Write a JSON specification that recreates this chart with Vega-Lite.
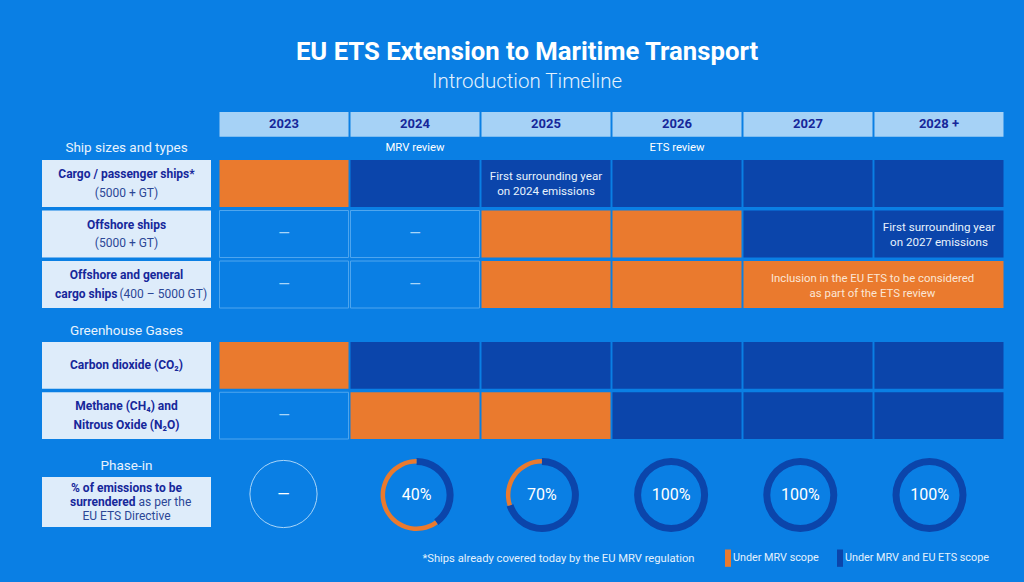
{
  "$schema": "https://vega.github.io/schema/vega-lite/v6.json",
  "width": 1024,
  "height": 482,
  "autosize": "none",
  "padding": {"left": 0, "right": 0, "top": 100, "bottom": 0},
  "background": "#0a7fe4",
  "title": {
    "text": "EU ETS Extension to Maritime Transport",
    "subtitle": "Introduction Timeline",
    "anchor": "middle",
    "dx": 15,
    "offset": 7,
    "color": "#ffffff",
    "font": "Roboto",
    "fontSize": 25.7,
    "fontWeight": "bold",
    "subtitleColor": "#e3f1fd",
    "subtitleFont": "Roboto",
    "subtitleFontSize": 20.5,
    "subtitleFontWeight": 300,
    "subtitlePadding": 6
  },
  "config": {
    "view": {"stroke": null},
    "axis": {"disable": true},
    "text": {"font": "Roboto"}
  },
  "datasets": {
    "years": [
      {"row": "Year", "year": "2023"},
      {"row": "Year", "year": "2024"},
      {"row": "Year", "year": "2025"},
      {"row": "Year", "year": "2026"},
      {"row": "Year", "year": "2027"},
      {"row": "Year", "year": "2028 +"}
    ],
    "reviews": [
      {"row": "Review", "year": "2024", "text": "MRV review"},
      {"row": "Review", "year": "2026", "text": "ETS review"}
    ],
    "cells": [
      {"section": "ships", "row": "Cargo / passenger", "year": "2023", "status": "Under MRV scope"},
      {"section": "ships", "row": "Cargo / passenger", "year": "2024", "status": "Under MRV and EU ETS scope"},
      {"section": "ships", "row": "Cargo / passenger", "year": "2025", "status": "Under MRV and EU ETS scope", "note": "First surrounding year\non 2024 emissions"},
      {"section": "ships", "row": "Cargo / passenger", "year": "2026", "status": "Under MRV and EU ETS scope"},
      {"section": "ships", "row": "Cargo / passenger", "year": "2027", "status": "Under MRV and EU ETS scope"},
      {"section": "ships", "row": "Cargo / passenger", "year": "2028 +", "status": "Under MRV and EU ETS scope"},
      {"section": "ships", "row": "Offshore", "year": "2023", "status": "Not in scope"},
      {"section": "ships", "row": "Offshore", "year": "2024", "status": "Not in scope"},
      {"section": "ships", "row": "Offshore", "year": "2025", "status": "Under MRV scope"},
      {"section": "ships", "row": "Offshore", "year": "2026", "status": "Under MRV scope"},
      {"section": "ships", "row": "Offshore", "year": "2027", "status": "Under MRV and EU ETS scope"},
      {"section": "ships", "row": "Offshore", "year": "2028 +", "status": "Under MRV and EU ETS scope", "note": "First surrounding year\non 2027 emissions"},
      {"section": "ships", "row": "Offshore and general", "year": "2023", "status": "Not in scope"},
      {"section": "ships", "row": "Offshore and general", "year": "2024", "status": "Not in scope"},
      {"section": "ships", "row": "Offshore and general", "year": "2025", "status": "Under MRV scope"},
      {"section": "ships", "row": "Offshore and general", "year": "2026", "status": "Under MRV scope"},
      {"section": "ships", "row": "Offshore and general", "year": "2027", "yearEnd": "2028 +", "status": "Under MRV scope", "note": "Inclusion in the EU ETS to be considered\nas part of the ETS review"},
      {"section": "gases", "row": "CO2", "year": "2023", "status": "Under MRV scope"},
      {"section": "gases", "row": "CO2", "year": "2024", "status": "Under MRV and EU ETS scope"},
      {"section": "gases", "row": "CO2", "year": "2025", "status": "Under MRV and EU ETS scope"},
      {"section": "gases", "row": "CO2", "year": "2026", "status": "Under MRV and EU ETS scope"},
      {"section": "gases", "row": "CO2", "year": "2027", "status": "Under MRV and EU ETS scope"},
      {"section": "gases", "row": "CO2", "year": "2028 +", "status": "Under MRV and EU ETS scope"},
      {"section": "gases", "row": "CH4 N2O", "year": "2023", "status": "Not in scope"},
      {"section": "gases", "row": "CH4 N2O", "year": "2024", "status": "Under MRV scope"},
      {"section": "gases", "row": "CH4 N2O", "year": "2025", "status": "Under MRV scope"},
      {"section": "gases", "row": "CH4 N2O", "year": "2026", "status": "Under MRV and EU ETS scope"},
      {"section": "gases", "row": "CH4 N2O", "year": "2027", "status": "Under MRV and EU ETS scope"},
      {"section": "gases", "row": "CH4 N2O", "year": "2028 +", "status": "Under MRV and EU ETS scope"}
    ],
    "labels": [
      {"section": "ships", "row": "Cargo / passenger", "line": 1, "part": "name", "text": "Cargo / passenger ships*"},
      {"section": "ships", "row": "Cargo / passenger", "line": 2, "part": "note", "text": "(5000 + GT)"},
      {"section": "ships", "row": "Offshore", "line": 1, "part": "name", "text": "Offshore ships"},
      {"section": "ships", "row": "Offshore", "line": 2, "part": "note", "text": "(5000 + GT)"},
      {"section": "ships", "row": "Offshore and general", "line": 1, "part": "name", "text": "Offshore and general"},
      {"section": "ships", "row": "Offshore and general", "line": 2, "part": "nameLeft", "text": "cargo ships"},
      {"section": "ships", "row": "Offshore and general", "line": 2, "part": "noteRight", "text": "(400 – 5000 GT)"},
      {"section": "gases", "row": "CO2", "line": 1.5, "part": "name", "text": "Carbon dioxide (CO₂)"},
      {"section": "gases", "row": "CH4 N2O", "line": 1, "part": "name", "text": "Methane (CH₄) and"},
      {"section": "gases", "row": "CH4 N2O", "line": 2, "part": "name", "text": "Nitrous Oxide (N₂O)"},
      {"section": "phase", "row": "Phase-in", "line": 1, "part": "name", "text": "% of emissions to be"},
      {"section": "phase", "row": "Phase-in", "line": 2, "part": "nameLeft", "text": "surrendered"},
      {"section": "phase", "row": "Phase-in", "line": 2, "part": "noteRight", "text": "as per the"},
      {"section": "phase", "row": "Phase-in", "line": 3, "part": "note", "text": "EU ETS Directive"}
    ],
    "headings": [
      {"section": "ships", "row": "Cargo / passenger", "text": "Ship sizes and types"},
      {"section": "gases", "row": "CO2", "text": "Greenhouse Gases"},
      {"section": "phase", "row": "Phase-in", "text": "Phase-in"}
    ],
    "rings": [
      {"row": "Phase-in", "year": "2024", "scope": "Under MRV and EU ETS scope", "from": 0, "to": 40},
      {"row": "Phase-in", "year": "2024", "scope": "Under MRV scope", "from": 40, "to": 100},
      {"row": "Phase-in", "year": "2025", "scope": "Under MRV and EU ETS scope", "from": 0, "to": 70},
      {"row": "Phase-in", "year": "2025", "scope": "Under MRV scope", "from": 70, "to": 100},
      {"row": "Phase-in", "year": "2026", "scope": "Under MRV and EU ETS scope", "from": 0, "to": 100},
      {"row": "Phase-in", "year": "2027", "scope": "Under MRV and EU ETS scope", "from": 0, "to": 100},
      {"row": "Phase-in", "year": "2028 +", "scope": "Under MRV and EU ETS scope", "from": 0, "to": 100}
    ],
    "percents": [
      {"row": "Phase-in", "year": "2023", "percent": "—"},
      {"row": "Phase-in", "year": "2024", "percent": "40%"},
      {"row": "Phase-in", "year": "2025", "percent": "70%"},
      {"row": "Phase-in", "year": "2026", "percent": "100%"},
      {"row": "Phase-in", "year": "2027", "percent": "100%"},
      {"row": "Phase-in", "year": "2028 +", "percent": "100%"}
    ],
    "footnote": [
      {"text": "*Ships already covered today by the EU MRV regulation"}
    ]
  },
  "resolve": {"scale": {"x": "independent", "y": "independent"}},
  "layer": [
    {
      "encoding": {
        "x": {
          "field": "year",
          "type": "nominal",
          "scale": {
            "type": "band",
            "domain": ["2023", "2024", "2025", "2026", "2027", "2028 +"],
            "range": [219.5, 1003.5],
            "paddingInner": 0.015,
            "paddingOuter": 0
          }
        }
      },
      "resolve": {"scale": {"y": "independent"}},
      "layer": [
        {
          "encoding": {
            "y": {
              "field": "row",
              "type": "nominal",
              "scale": {"type": "band", "domain": ["Year", "Review"], "range": [12, 62], "paddingInner": 0.02, "paddingOuter": 0}
            }
          },
          "layer": [
            {
              "data": {"name": "years"},
              "mark": {"type": "rect", "fill": "#a6d2f6"}
            },
            {
              "data": {"name": "years"},
              "mark": {"type": "text", "fontSize": 13, "fontWeight": "bold", "color": "#16279a"},
              "encoding": {"text": {"field": "year"}}
            },
            {
              "data": {"name": "reviews"},
              "mark": {"type": "text", "fontSize": 11.3, "color": "#ffffff", "dy": -1.5},
              "encoding": {"text": {"field": "text"}}
            }
          ]
        },
        {
          "data": {"name": "cells"},
          "transform": [{"filter": "datum.section == 'ships'"}],
          "encoding": {
            "y": {
              "field": "row",
              "type": "nominal",
              "scale": {
                "type": "band",
                "domain": ["Cargo / passenger", "Offshore", "Offshore and general"],
                "range": [60, 208],
                "paddingInner": 0.07,
                "paddingOuter": 0
              }
            }
          },
          "layer": [
            {
              "transform": [{"filter": "datum.status != 'Not in scope' && !datum.yearEnd"}],
              "mark": {"type": "rect"},
              "encoding": {
                "color": {
                  "field": "status",
                  "type": "nominal",
                  "scale": {"domain": ["Under MRV scope", "Under MRV and EU ETS scope"], "range": ["#ea7a2e", "#0b45ab"]},
                  "legend": {
                    "orient": "none",
                    "direction": "horizontal",
                    "legendX": 719,
                    "legendY": 449,
                    "title": null,
                    "symbolType": "M-0.35,-1H0.35V1H-0.35Z",
                    "symbolSize": 300,
                    "symbolStrokeWidth": 0,
                    "labelColor": "#e3f1fd",
                    "labelFont": "Roboto",
                    "labelFontSize": 10.8,
                    "labelLimit": 300,
                    "columnPadding": 12,
                    "labelOffset": -4
                  }
                }
              }
            },
            {
              "transform": [{"filter": "datum.yearEnd"}],
              "mark": {"type": "rect", "fill": "#ea7a2e"},
              "encoding": {
                "x": {"field": "year", "type": "nominal", "bandPosition": 0},
                "x2": {"field": "yearEnd", "bandPosition": 1}
              }
            },
            {
              "transform": [{"filter": "datum.yearEnd"}],
              "mark": {"type": "text", "fontSize": 11.4, "color": "#fbe6d5", "lineBreak": "\n", "lineHeight": 15, "dy": -6},
              "encoding": {
                "x": {"field": "year", "type": "nominal", "bandPosition": 1},
                "text": {"field": "note"}
              }
            },
            {
              "transform": [{"filter": "datum.status == 'Not in scope'"}],
              "mark": {"type": "rect", "fill": null, "stroke": "#4fa6ee", "strokeWidth": 1}
            },
            {
              "transform": [{"filter": "datum.status == 'Not in scope'"}],
              "mark": {"type": "text", "fontSize": 15, "color": "#a9d5f8", "dy": -1},
              "encoding": {"text": {"value": "—"}}
            },
            {
              "transform": [{"filter": "datum.note && !datum.yearEnd"}],
              "mark": {"type": "text", "fontSize": 11.6, "color": "#e8f3fd", "lineBreak": "\n", "lineHeight": 15, "dy": -6},
              "encoding": {"text": {"field": "note"}}
            }
          ]
        },
        {
          "data": {"name": "cells"},
          "transform": [{"filter": "datum.section == 'gases'"}],
          "encoding": {
            "y": {
              "field": "row",
              "type": "nominal",
              "scale": {"type": "band", "domain": ["CO2", "CH4 N2O"], "range": [242, 339], "paddingInner": 0.07, "paddingOuter": 0}
            }
          },
          "layer": [
            {
              "transform": [{"filter": "datum.status != 'Not in scope'"}],
              "mark": {"type": "rect"},
              "encoding": {
                "color": {
                  "field": "status",
                  "type": "nominal",
                  "scale": {"domain": ["Under MRV scope", "Under MRV and EU ETS scope"], "range": ["#ea7a2e", "#0b45ab"]},
                  "legend": null
                }
              }
            },
            {
              "transform": [{"filter": "datum.status == 'Not in scope'"}],
              "mark": {"type": "rect", "fill": null, "stroke": "#4fa6ee", "strokeWidth": 1}
            },
            {
              "transform": [{"filter": "datum.status == 'Not in scope'"}],
              "mark": {"type": "text", "fontSize": 15, "color": "#a9d5f8", "dy": -1},
              "encoding": {"text": {"value": "—"}}
            }
          ]
        }
      ]
    },
    {
      "encoding": {
        "x": {
          "datum": "Labels",
          "type": "nominal",
          "scale": {"type": "band", "domain": ["Labels"], "range": [42, 211], "paddingInner": 0, "paddingOuter": 0}
        }
      },
      "resolve": {"scale": {"y": "independent", "yOffset": "independent"}},
      "layer": [
        {
          "encoding": {
            "y": {
              "field": "row",
              "type": "nominal",
              "scale": {
                "type": "band",
                "domain": ["Cargo / passenger", "Offshore", "Offshore and general"],
                "range": [60, 208],
                "paddingInner": 0.07,
                "paddingOuter": 0
              }
            }
          },
          "layer": [
            {
              "data": {"name": "headings"},
              "transform": [{"filter": "datum.section == 'ships'"}],
              "mark": {"type": "text", "fontSize": 13.5, "dy": -35.5, "color": "#e8f3fd"},
              "encoding": {"text": {"field": "text"}}
            },
            {
              "data": {"name": "cells"},
              "transform": [{"filter": "datum.section == 'ships' && datum.year == '2023'"}],
              "mark": {"type": "rect", "fill": "#deecfa"}
            },
            {
              "data": {"name": "labels"},
              "transform": [{"filter": "datum.section == 'ships'"}],
              "encoding": {
                "yOffset": {
                  "field": "line",
                  "type": "ordinal",
                  "scale": {"type": "band", "domain": [1, 1.5, 2], "paddingOuter": 1.35, "paddingInner": 0}
                },
                "text": {"field": "text"}
              },
              "layer": [
                {
                  "transform": [{"filter": "datum.part == 'name'"}],
                  "mark": {"type": "text", "fontSize": 12, "fontWeight": "bold", "color": "#16279a"}
                },
                {
                  "transform": [{"filter": "datum.part == 'note'"}],
                  "mark": {"type": "text", "fontSize": 12, "color": "#2b4796"}
                },
                {
                  "transform": [{"filter": "datum.part == 'nameLeft'"}],
                  "mark": {"type": "text", "fontSize": 12, "fontWeight": "bold", "color": "#16279a", "align": "right", "dx": -9}
                },
                {
                  "transform": [{"filter": "datum.part == 'noteRight'"}],
                  "mark": {"type": "text", "fontSize": 12, "color": "#2b4796", "align": "left", "dx": -7}
                }
              ]
            }
          ]
        },
        {
          "encoding": {
            "y": {
              "field": "row",
              "type": "nominal",
              "scale": {"type": "band", "domain": ["CO2", "CH4 N2O"], "range": [242, 339], "paddingInner": 0.07, "paddingOuter": 0}
            }
          },
          "layer": [
            {
              "data": {"name": "headings"},
              "transform": [{"filter": "datum.section == 'gases'"}],
              "mark": {"type": "text", "fontSize": 13.5, "dy": -34, "color": "#e8f3fd"},
              "encoding": {"text": {"field": "text"}}
            },
            {
              "data": {"name": "cells"},
              "transform": [{"filter": "datum.section == 'gases' && datum.year == '2023'"}],
              "mark": {"type": "rect", "fill": "#deecfa"}
            },
            {
              "data": {"name": "labels"},
              "transform": [{"filter": "datum.section == 'gases'"}],
              "mark": {"type": "text", "fontSize": 12, "fontWeight": "bold", "color": "#16279a"},
              "encoding": {
                "yOffset": {
                  "field": "line",
                  "type": "ordinal",
                  "scale": {"type": "band", "domain": [1, 1.5, 2], "paddingOuter": 1.35, "paddingInner": 0}
                },
                "text": {"field": "text"}
              }
            }
          ]
        },
        {
          "encoding": {
            "y": {
              "field": "row",
              "type": "nominal",
              "scale": {"type": "band", "domain": ["Phase-in"], "range": [377, 427], "paddingInner": 0, "paddingOuter": 0}
            }
          },
          "layer": [
            {
              "data": {"name": "headings"},
              "transform": [{"filter": "datum.section == 'phase'"}],
              "mark": {"type": "text", "fontSize": 13.5, "dy": -36.5, "color": "#e8f3fd"},
              "encoding": {"text": {"field": "text"}}
            },
            {
              "data": {"name": "headings"},
              "transform": [{"filter": "datum.section == 'phase'"}],
              "mark": {"type": "rect", "fill": "#deecfa"}
            },
            {
              "data": {"name": "labels"},
              "transform": [{"filter": "datum.section == 'phase'"}],
              "encoding": {
                "yOffset": {
                  "field": "line",
                  "type": "ordinal",
                  "scale": {"type": "band", "domain": [1, 2, 3], "paddingOuter": 0.286, "paddingInner": 0}
                },
                "text": {"field": "text"}
              },
              "layer": [
                {
                  "transform": [{"filter": "datum.part == 'name'"}],
                  "mark": {"type": "text", "fontSize": 12, "fontWeight": "bold", "color": "#16279a"}
                },
                {
                  "transform": [{"filter": "datum.part == 'note'"}],
                  "mark": {"type": "text", "fontSize": 12, "color": "#2b4796"}
                },
                {
                  "transform": [{"filter": "datum.part == 'nameLeft'"}],
                  "mark": {"type": "text", "fontSize": 12, "fontWeight": "bold", "color": "#16279a", "align": "right", "dx": 9}
                },
                {
                  "transform": [{"filter": "datum.part == 'noteRight'"}],
                  "mark": {"type": "text", "fontSize": 12, "color": "#2b4796", "align": "left", "dx": 12}
                }
              ]
            }
          ]
        }
      ]
    },
    {
      "encoding": {
        "x": {
          "field": "year",
          "type": "nominal",
          "scale": {
            "type": "band",
            "domain": ["2023", "2024", "2025", "2026", "2027", "2028 +"],
            "range": [218.9, 994.1],
            "paddingInner": 0,
            "paddingOuter": 0
          }
        },
        "y": {
          "field": "row",
          "type": "nominal",
          "scale": {"type": "band", "domain": ["Phase-in"], "range": [358, 432], "paddingInner": 0, "paddingOuter": 0}
        }
      },
      "layer": [
        {
          "data": {"name": "percents"},
          "transform": [{"filter": "datum.year == '2023'"}],
          "mark": {"type": "point", "shape": "circle", "size": 4515, "stroke": "#a9d5f8", "strokeWidth": 1, "fill": null, "opacity": 1, "yOffset": -1}
        },
        {
          "data": {"name": "rings"},
          "transform": [{"filter": "datum.scope == 'Under MRV and EU ETS scope' && datum.year != '2024'"}],
          "mark": {"type": "arc", "innerRadius": 30, "outerRadius": 37},
          "encoding": {
            "theta": {"field": "from", "type": "quantitative", "stack": null, "scale": {"domain": [0, 100], "range": [0, 6.2832]}},
            "theta2": {"field": "to"},
            "color": {
              "field": "scope",
              "type": "nominal",
              "scale": {"domain": ["Under MRV scope", "Under MRV and EU ETS scope"], "range": ["#ea7a2e", "#0b45ab"]},
              "legend": null
            }
          }
        },
        {
          "data": {"name": "rings"},
          "transform": [{"filter": "datum.scope == 'Under MRV scope' && datum.year != '2024'"}],
          "mark": {"type": "arc", "innerRadius": 31.5, "outerRadius": 36},
          "encoding": {
            "theta": {"field": "from", "type": "quantitative", "stack": null, "scale": {"domain": [0, 100], "range": [0, 6.2832]}},
            "theta2": {"field": "to"},
            "color": {
              "field": "scope",
              "type": "nominal",
              "scale": {"domain": ["Under MRV scope", "Under MRV and EU ETS scope"], "range": ["#ea7a2e", "#0b45ab"]},
              "legend": null
            }
          }
        },
        {
          "data": {"name": "rings"},
          "transform": [{"filter": "datum.scope == 'Under MRV and EU ETS scope' && datum.year == '2024'"}],
          "mark": {"type": "arc", "innerRadius": 30, "outerRadius": 37},
          "encoding": {
            "x": {"field": "year", "type": "nominal", "bandPosition": 0.53},
            "theta": {"field": "from", "type": "quantitative", "stack": null, "scale": {"domain": [0, 100], "range": [0, 6.2832]}},
            "theta2": {"field": "to"},
            "color": {
              "field": "scope",
              "type": "nominal",
              "scale": {"domain": ["Under MRV scope", "Under MRV and EU ETS scope"], "range": ["#ea7a2e", "#0b45ab"]},
              "legend": null
            }
          }
        },
        {
          "data": {"name": "rings"},
          "transform": [{"filter": "datum.scope == 'Under MRV scope' && datum.year == '2024'"}],
          "mark": {"type": "arc", "innerRadius": 31.5, "outerRadius": 36},
          "encoding": {
            "x": {"field": "year", "type": "nominal", "bandPosition": 0.53},
            "theta": {"field": "from", "type": "quantitative", "stack": null, "scale": {"domain": [0, 100], "range": [0, 6.2832]}},
            "theta2": {"field": "to"},
            "color": {
              "field": "scope",
              "type": "nominal",
              "scale": {"domain": ["Under MRV scope", "Under MRV and EU ETS scope"], "range": ["#ea7a2e", "#0b45ab"]},
              "legend": null
            }
          }
        },
        {
          "data": {"name": "percents"},
          "transform": [{"filter": "datum.year != '2024'"}],
          "mark": {"type": "text", "fontSize": 16, "color": "#ffffff"},
          "encoding": {"text": {"field": "percent"}}
        },
        {
          "data": {"name": "percents"},
          "transform": [{"filter": "datum.year == '2024'"}],
          "mark": {"type": "text", "fontSize": 16, "color": "#ffffff"},
          "encoding": {
            "x": {"field": "year", "type": "nominal", "bandPosition": 0.53},
            "text": {"field": "percent"}
          }
        }
      ]
    },
    {
      "data": {"name": "footnote"},
      "mark": {"type": "text", "fontSize": 11.2, "color": "#e3f1fd"},
      "encoding": {
        "x": {
          "datum": "Footnote",
          "type": "nominal",
          "scale": {"type": "band", "domain": ["Footnote"], "range": [424, 693], "paddingInner": 0, "paddingOuter": 0}
        },
        "y": {
          "datum": "Footnote",
          "type": "nominal",
          "scale": {"type": "band", "domain": ["Footnote"], "range": [449, 469], "paddingInner": 0, "paddingOuter": 0}
        },
        "text": {"field": "text"}
      }
    }
  ]
}
